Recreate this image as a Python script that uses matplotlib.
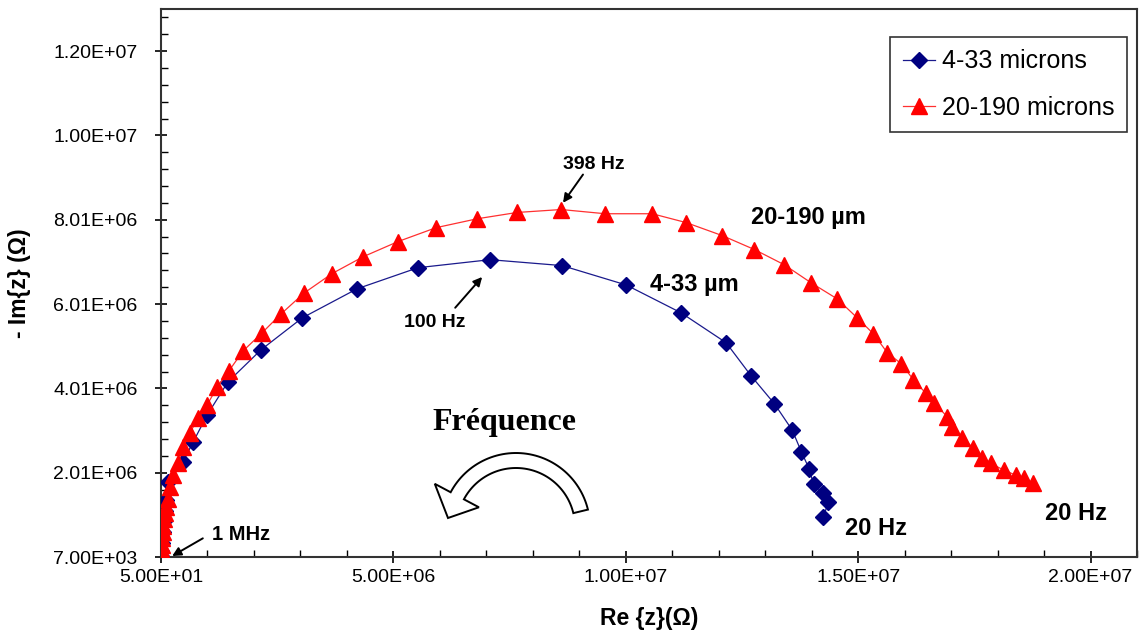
import numpy as np
import matplotlib
matplotlib.use('Agg')
import matplotlib.pyplot as plt
from matplotlib.ticker import FixedLocator, FuncFormatter
from matplotlib.patches import Polygon

plt.rcParams['font.family'] = ['Liberation Sans', 'DejaVu Sans']

# ------------------- Data (units of 1e6 Ohm) ------------------- #
re_small = [0.0, 0.01, 0.02, 0.04, 0.06, 0.08, 0.11, 0.15, 0.47, 0.69, 0.99, 1.44, 2.15,
            3.04, 4.22, 5.53, 7.08, 8.63, 10.01, 11.19, 12.16, 12.70, 13.20, 13.58,
            13.78, 13.95, 14.04, 14.25, 14.36, 14.25]
im_small = [0.02, 0.15, 0.35, 0.6, 0.85, 1.1, 1.35, 1.78, 2.26, 2.73, 3.37, 4.16, 4.92,
            5.68, 6.37, 6.87, 7.06, 6.92, 6.46, 5.80, 5.09, 4.30, 3.64, 3.02,
            2.50, 2.09, 1.73, 1.52, 1.31, 0.95]

re_large = [0.0, 0.005, 0.01, 0.02, 0.03, 0.04, 0.05, 0.07, 0.09, 0.11, 0.14, 0.19, 0.26,
            0.37, 0.47, 0.62, 0.80, 0.99, 1.21, 1.46, 1.77, 2.17, 2.58, 3.08, 3.68,
            4.35, 5.10, 5.92, 6.80, 7.66, 8.61, 9.56, 10.57, 11.30, 12.08, 12.77,
            13.41, 13.99, 14.55, 14.98, 15.33, 15.63, 15.93, 16.19, 16.45, 16.64,
            16.92, 17.03, 17.24, 17.48, 17.67, 17.85, 18.13, 18.39, 18.56, 18.77]
im_large = [0.0, 0.1, 0.2, 0.3, 0.45, 0.6, 0.75, 0.9, 1.05, 1.2, 1.38, 1.66, 1.95,
            2.23, 2.61, 2.95, 3.30, 3.61, 4.04, 4.42, 4.90, 5.32, 5.77, 6.27, 6.73,
            7.13, 7.49, 7.82, 8.03, 8.18, 8.25, 8.15, 8.15, 7.94, 7.63, 7.30,
            6.94, 6.51, 6.13, 5.68, 5.30, 4.85, 4.59, 4.21, 3.90, 3.66,
            3.33, 3.09, 2.83, 2.59, 2.35, 2.23, 2.07, 1.95, 1.88, 1.76]

x_ticks = [50 + k * 5e6 for k in range(5)]
y_ticks = [7000 + k * 2e6 for k in range(7)]

# ------------------- Plot ------------------- #
fig = plt.figure(figsize=(11.47, 6.37), dpi=100)
ax = fig.add_axes([161 / 1147, 1 - 557 / 637, 976 / 1147, 548 / 637])

ax.plot(np.array(re_small) * 1e6, np.array(im_small) * 1e6, color='#1a1a8c', lw=0.9,
        marker='D', ms=8, mfc='#000080', mec='#000080', label='4-33 microns', zorder=3)
ax.plot(np.array(re_large) * 1e6, np.array(im_large) * 1e6, color='#ff3030', lw=0.9,
        marker='^', ms=12, mfc='#ff0000', mec='#ff0000', label='20-190 microns', zorder=4)

ax.set_xlim(50, 2.1e7 + 50)
ax.set_ylim(7000, 1.3e7 + 7000)

ax.xaxis.set_major_locator(FixedLocator(x_ticks))
ax.yaxis.set_major_locator(FixedLocator(y_ticks))
ax.xaxis.set_minor_locator(FixedLocator([50 + k * 1e6 for k in range(22)]))
ax.yaxis.set_minor_locator(FixedLocator([7000 + k * 4e5 for k in range(33)]))
fmt = FuncFormatter(lambda v, p: f'{v:.2E}')
ax.xaxis.set_major_formatter(fmt)
ax.yaxis.set_major_formatter(fmt)
ax.tick_params(which='major', direction='inout', length=8, width=1.2, labelsize=14)
ax.tick_params(axis='x', which='major', pad=5)
ax.tick_params(axis='y', which='major', pad=13)
ax.tick_params(which='minor', direction='in', length=5, width=1.0)
for s in ax.spines.values():
    s.set_color('#333333')
    s.set_linewidth(1.5)

ax.set_xlabel('Re {z}(Ω)', fontsize=16.5, fontweight='bold', labelpad=15)
ax.set_ylabel('- Im{z} (Ω)', fontsize=16.5, fontweight='bold', labelpad=16)

leg = ax.legend(loc='upper right', bbox_to_anchor=(0.99, 0.949), borderaxespad=0,
                fontsize=18, fancybox=False, framealpha=1, edgecolor='#333333',
                handlelength=1.3, handletextpad=0.28, borderpad=0.5, labelspacing=0.9)
leg.get_frame().set_linewidth(1.2)

# annotations
arrow = dict(arrowstyle='-|>', color='black', lw=1.4, mutation_scale=13,
             shrinkA=0, shrinkB=0)
ax.annotate('', xy=(8.65e6, 8.41e6), xytext=(9.08e6, 9.08e6), arrowprops=arrow)
ax.annotate('', xy=(6.91e6, 6.65e6), xytext=(6.33e6, 5.92e6), arrowprops=arrow)
ax.annotate('', xy=(0.24e6, 0.03e6), xytext=(0.9e6, 0.45e6), arrowprops=arrow)
ax.text(9.32e6, 9.32e6, '398 Hz', fontsize=14, fontweight='bold', ha='center', va='center')
ax.text(5.90e6, 5.56e6, '100 Hz', fontsize=14, fontweight='bold', ha='center', va='center')
ax.text(1.72e6, 0.55e6, '1 MHz', fontsize=14.5, fontweight='bold', ha='center', va='center')

ax.text(13.93e6, 8.06e6, '20-190 µm', fontsize=17, fontweight='bold', va='center', ha='center')
ax.text(11.47e6, 6.46e6, '4-33 µm', fontsize=17, fontweight='bold', va='center', ha='center')
ax.text(15.39e6, 0.69e6, '20 Hz', fontsize=17, fontweight='bold', va='center', ha='center')
ax.text(19.68e6, 1.05e6, '20 Hz', fontsize=17, fontweight='bold', va='center', ha='center')

ax.text(7.38e6, 3.20e6, 'Fréquence', fontsize=23, fontweight='bold', va='center', ha='center',
        family=['Liberation Serif', 'DejaVu Serif'])

# hollow curved arrow (drawn in figure pixels, y up)
cx, cy = 516, 637 - 527
r_out, r_in = 74, 59
t0, t1 = np.radians(13.6), np.radians(152)
ang = np.linspace(t0, t1, 60)
outer = np.column_stack([cx + r_out * np.cos(ang), cy + r_out * np.sin(ang)])
inner = np.column_stack([cx + r_in * np.cos(ang[::-1]), cy + r_in * np.sin(ang[::-1])])
head_out = (cx + 92 * np.cos(t1), cy + 92 * np.sin(t1))
head_in = (cx + 42 * np.cos(t1), cy + 42 * np.sin(t1))
tip = (cx - 68, cy + 9)
pts = np.vstack([outer, [head_out, tip, head_in], inner]) / 100.0
fig.add_artist(Polygon(pts, closed=True, transform=fig.dpi_scale_trans,
                       facecolor='white', edgecolor='black', lw=1.4, zorder=5))

fig.savefig('out.png', dpi=100)
